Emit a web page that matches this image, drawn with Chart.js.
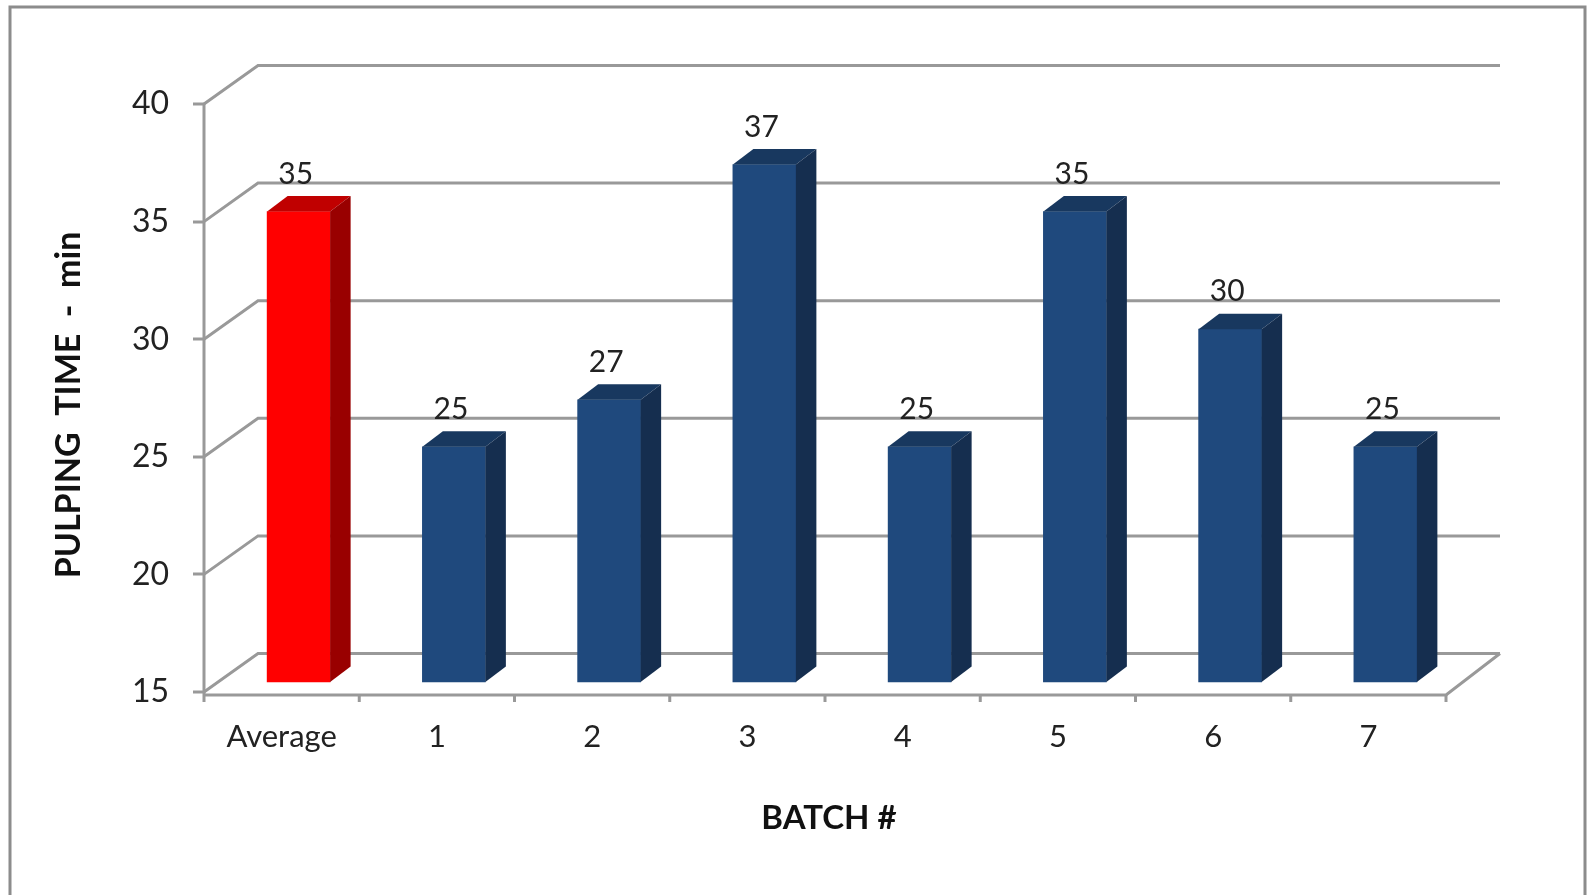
<!DOCTYPE html>
<html>
<head>
<meta charset="utf-8">
<title>Pulping time</title>
<script src="https://cdn.jsdelivr.net/npm/chart.js@4"></script>
<style>
    body { margin: 0; background: #fff; }
    canvas { display: block; }
</style>
</head>
<body>
<canvas id="pulpingChart" width="1589" height="895"></canvas>
<script>
const categories = ['Average', '1', '2', '3', '4', '5', '6', '7'];
const pulpingTime = [35, 25, 27, 37, 25, 35, 30, 25];
const yTicks = [15, 20, 25, 30, 35, 40];

const barColors = ['#ff0000', '#1f497d', '#1f497d', '#1f497d', '#1f497d', '#1f497d', '#1f497d', '#1f497d'];
const topColors = ['#c00000', '#18385f', '#18385f', '#18385f', '#18385f', '#18385f', '#18385f', '#18385f'];
const sideColors = ['#990000', '#152e4f', '#152e4f', '#152e4f', '#152e4f', '#152e4f', '#152e4f', '#152e4f'];

const GREY = '#999999';
const FONT = 'Lato';
// depth of the fake 3D box
const wallDx = 54, wallDy = 38.5;
// bars sit a bit inside the box
const barDx = 17, barDy = 10;
const sideDx = 20.5, sideDy = 15.5;
const floorDrop = 3;

function line(ctx, pts) {
    ctx.beginPath();
    pts.forEach((p, i) => i ? ctx.lineTo(p[0], p[1]) : ctx.moveTo(p[0], p[1]));
    ctx.stroke();
}

function poly(ctx, pts, color) {
    ctx.fillStyle = color;
    ctx.beginPath();
    pts.forEach((p, i) => i ? ctx.lineTo(p[0], p[1]) : ctx.moveTo(p[0], p[1]));
    ctx.closePath();
    ctx.fill();
}

const box3d = {
    id: 'box3d',
    beforeDatasetsDraw(chart) {
        const ctx = chart.ctx;
        const { left, right, bottom, top } = chart.chartArea;
        const yScale = chart.scales.y;
        ctx.save();

        // outer frame, there is no line at the bottom
        ctx.strokeStyle = '#8c8c8c';
        ctx.lineWidth = 3;
        line(ctx, [[10, 895], [10, 7], [1585, 7], [1585, 895]]);

        ctx.strokeStyle = GREY;
        ctx.lineWidth = 3;
        yTicks.forEach(v => {
            const y = yScale.getPixelForValue(v);
            line(ctx, [[left, y], [left + wallDx, y - wallDy], [right + wallDx, y - wallDy]]);
        });

        // floor
        const floorY = bottom + floorDrop;
        line(ctx, [[left, floorY], [right, floorY], [right + wallDx, bottom - wallDy]]);
        line(ctx, [[left, top], [left, bottom + 10]]);
        for (let i = 1; i <= categories.length; i++) {
            const x = left + (right - left) * i / categories.length;
            line(ctx, [[x, floorY], [x, floorY + 7]]);
        }
        ctx.restore();
    },
    beforeDatasetDraw(chart) {
        chart.ctx.save();
        chart.ctx.translate(barDx, -barDy);
    },
    afterDatasetDraw(chart, args) {
        const ctx = chart.ctx;
        args.meta.data.forEach((bar, i) => {
            const l = bar.x - bar.width / 2;
            const r = bar.x + bar.width / 2;
            poly(ctx, [[l, bar.y], [l + sideDx, bar.y - sideDy], [r + sideDx, bar.y - sideDy], [r, bar.y]], topColors[i]);
            poly(ctx, [[r, bar.y], [r + sideDx, bar.y - sideDy], [r + sideDx, bar.base - sideDy], [r, bar.base]], sideColors[i]);
        });
        ctx.restore();

        // value labels above the bars
        ctx.save();
        ctx.fillStyle = '#222';
        ctx.font = '30px ' + FONT;
        ctx.textAlign = 'center';
        ctx.textBaseline = 'alphabetic';
        args.meta.data.forEach((bar, i) => {
            ctx.fillText(pulpingTime[i], bar.x + barDx - 3, bar.y - barDy - 28);
        });
        ctx.restore();
    },
    afterDraw(chart) {
        const ctx = chart.ctx;
        ctx.save();
        ctx.fillStyle = '#111';
        ctx.font = 'bold 33px ' + FONT;
        ctx.textAlign = 'center';
        ctx.fillText('BATCH #', 829, 829);
        ctx.translate(80, 405);
        ctx.rotate(-Math.PI / 2);
        ctx.font = 'bold 34px ' + FONT;
        ctx.fillText('PULPING  TIME  -  min', 0, 0);
        ctx.restore();
    }
};

new Chart(document.getElementById('pulpingChart'), {
    type: 'bar',
    data: {
        labels: categories,
        datasets: [{
            data: pulpingTime,
            base: yTicks[0],
            backgroundColor: barColors,
            borderWidth: 0,
            barThickness: 63,
            clip: false
        }]
    },
    options: {
        responsive: false,
        animation: false,
        layout: { padding: { top: 104, right: 143, left: 0, bottom: 0 } },
        scales: {
            x: {
                afterFit(scale) { scale.height = 203; },
                border: { display: false },
                grid: { display: false },
                ticks: {
                    color: '#222',
                    padding: 18,
                    maxRotation: 0,
                    font: { family: FONT, size: 31 }
                }
            },
            y: {
                min: yTicks[0],
                max: yTicks[yTicks.length - 1],
                afterFit(scale) { scale.width = 204; },
                afterBuildTicks(scale) { scale.ticks = yTicks.map(v => ({ value: v })); },
                border: { display: false },
                // lineWidth 0 so the bars start right on the base value
                grid: { drawOnChartArea: false, color: GREY, lineWidth: 0, tickWidth: 3, tickLength: 11 },
                ticks: {
                    color: '#222',
                    padding: 24,
                    font: { family: FONT, size: 32 }
                }
            }
        },
        plugins: {
            legend: { display: false },
            tooltip: { enabled: false }
        }
    },
    plugins: [box3d]
});
</script>
</body>
</html>
